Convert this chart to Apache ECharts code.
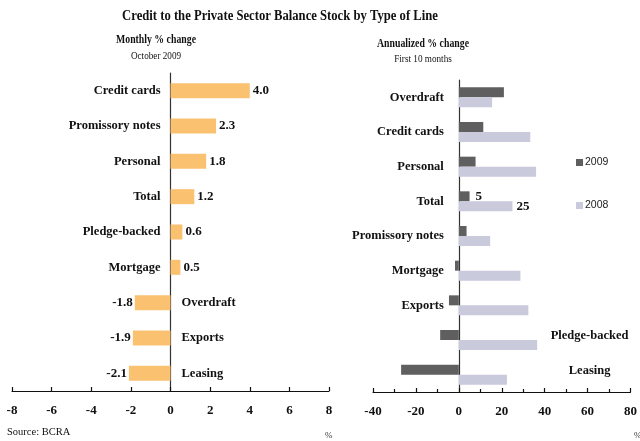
<!DOCTYPE html>
<html>
<head>
<meta charset="utf-8">
<script src="https://cdn.jsdelivr.net/npm/echarts@6/dist/echarts.min.js"></script>
<style>
  html, body { margin: 0; padding: 0; background: #fff; }
  #chart { width: 640px; height: 441px; }
</style>
</head>
<body>
<div id="chart"></div>
<script>
// Monthly % change, October 2009
const monthlyCategories = ['Credit cards', 'Promissory notes', 'Personal', 'Total', 'Pledge-backed', 'Mortgage', 'Overdraft', 'Exports', 'Leasing'];
const monthlyChange = [4.0, 2.3, 1.8, 1.2, 0.6, 0.5, -1.8, -1.9, -2.1];

// Annualized % change, first 10 months
const annualCategories = ['Overdraft', 'Credit cards', 'Personal', 'Total', 'Promissory notes', 'Mortgage', 'Exports', 'Pledge-backed', 'Leasing'];
const annual2009 = [21, 11.4, 7.8, 5, 3.6, -1.8, -4.6, -8.7, -26.9];
const annual2008 = [15.5, 33.3, 36, 25, 14.6, 28.7, 32.4, 36.5, 22.4];
const labelledCategory = 'Total';

const SERIF = '"Liberation Serif", "DejaVu Serif", serif';
const SANS = '"Liberation Sans", Arial, sans-serif';
const INK = '#111';

const chart = echarts.init(document.getElementById('chart'), null, { renderer: 'canvas' });

const boldText = size => ({ fontFamily: SERIF, fontWeight: 'bold', fontSize: size, color: INK });

// Headings are set in a slightly condensed serif
const heading = (text, x, y, size, bold, squeeze) => ({
  type: 'text',
  x: x, y: y,
  scaleX: squeeze,
  silent: true,
  style: {
    text: text, x: 0, y: 0,
    align: 'center', verticalAlign: 'middle',
    font: (bold ? 'bold ' : '') + size + 'px ' + SERIF,
    fill: INK
  }
});

// Category names sit on whichever side of the zero line is free
const monthlyNameLabels = monthlyCategories.map((c, i) => {
  const neg = monthlyChange[i] < 0;
  return {
    value: [0, c],
    label: { position: neg ? 'right' : 'left', distance: neg ? 11 : 10 }
  };
});

const annualNameLabels = annualCategories.map((c, i) => {
  const farSide = annual2009[i] < -8;
  return farSide
    ? { value: [60, c], label: { position: 'inside', offset: [2, -4] } }
    : { value: [0, c], label: { position: 'left', distance: 15 } };
});

const valueAxisCommon = {
  axisLine: { show: true, onZero: false, lineStyle: { color: INK, width: 1.2 } },
  axisTick: { show: true, inside: true, length: 4, lineStyle: { color: INK, width: 1.2 } },
  splitLine: { show: false },
  axisLabel: Object.assign({ margin: 13 }, boldText(13))
};

const categoryAxisCommon = {
  type: 'category',
  inverse: true,
  axisLine: { show: true, onZero: true, lineStyle: { color: '#333', width: 1.2 } },
  axisTick: { show: false },
  axisLabel: { show: false },
  splitLine: { show: false }
};

const nameLabelSeries = (axis, data) => ({
  type: 'scatter',
  xAxisIndex: axis, yAxisIndex: axis,
  symbolSize: 0,
  silent: true,
  itemStyle: { opacity: 1, color: 'transparent' },
  data: data,
  label: Object.assign({ show: true, formatter: p => p.value[1] }, boldText(12.5))
});

chart.setOption({
  animation: false,
  backgroundColor: '#fff',
  legend: {
    data: ['2009', '2008'],
    orient: 'vertical',
    left: 571,
    top: 152,
    itemWidth: 7,
    itemHeight: 7,
    itemGap: 32,
    icon: 'rect',
    textStyle: { fontFamily: SANS, fontSize: 10.5, color: '#222', padding: [0, 0, 0, -3] }
  },
  grid: [
    { left: 12, top: 73, width: 317, height: 318 },
    { left: 373, top: 80, width: 263, height: 312 }
  ],
  xAxis: [
    Object.assign({ type: 'value', gridIndex: 0, min: -8, max: 8, interval: 2 }, valueAxisCommon),
    Object.assign({ type: 'value', gridIndex: 1, min: -40, max: 80, interval: 20,
      minorTick: { show: true, splitNumber: 2, length: 3, lineStyle: { color: INK, width: 1.2 } } }, valueAxisCommon)
  ],
  yAxis: [
    Object.assign({ gridIndex: 0, data: monthlyCategories }, categoryAxisCommon),
    Object.assign({ gridIndex: 1, data: annualCategories }, categoryAxisCommon)
  ],
  graphic: [
    heading('Credit to the Private Sector Balance Stock by Type of Line', 280, 16, 14.8, true, 0.855),
    heading('Monthly % change', 156, 40, 11.8, true, 0.83),
    heading('October 2009', 156, 56, 10.2, false, 0.9),
    heading('Annualized % change', 423, 44, 11.8, true, 0.83),
    heading('First 10 months', 423, 59, 10.2, false, 0.9),
    { type: 'text', left: 7, top: 427, style: { text: 'Source: BCRA', font: '10.5px ' + SERIF, fill: INK } },
    { type: 'text', left: 325, top: 431, style: { text: '%', font: '9px ' + SERIF, fill: '#333' } },
    { type: 'text', left: 634, top: 431, style: { text: '%', font: '9px ' + SERIF, fill: '#333' } }
  ],
  series: [
    {
      type: 'bar',
      xAxisIndex: 0, yAxisIndex: 0,
      barWidth: 15,
      itemStyle: { color: '#FAC170' },
      data: monthlyChange.map(v => ({
        value: v,
        label: { position: v < 0 ? 'left' : 'right', distance: v < 0 ? 2 : 3 }
      })),
      label: Object.assign({ show: true, formatter: p => p.value.toFixed(1) }, boldText(13))
    },
    nameLabelSeries(0, monthlyNameLabels),
    {
      name: '2009',
      type: 'bar',
      xAxisIndex: 1, yAxisIndex: 1,
      barWidth: 10,
      barGap: '0%',
      itemStyle: { color: '#5F5F5F' },
      data: annual2009.map((v, i) => ({
        value: v,
        label: { show: annualCategories[i] === labelledCategory }
      })),
      label: Object.assign({ position: 'right', distance: 6, formatter: p => p.value }, boldText(13))
    },
    {
      name: '2008',
      type: 'bar',
      xAxisIndex: 1, yAxisIndex: 1,
      barWidth: 10,
      barGap: '0%',
      itemStyle: { color: '#C9CADB' },
      data: annual2008.map((v, i) => ({
        value: v,
        label: { show: annualCategories[i] === labelledCategory }
      })),
      label: Object.assign({ position: 'right', distance: 4, formatter: p => p.value }, boldText(13))
    },
    nameLabelSeries(1, annualNameLabels)
  ]
});
</script>
</body>
</html>
